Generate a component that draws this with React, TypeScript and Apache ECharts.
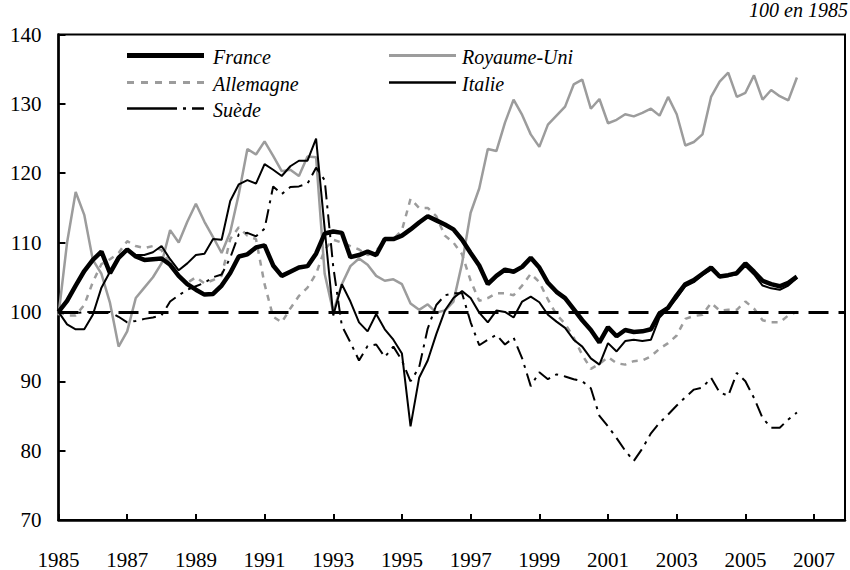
import React, { useEffect, useRef } from "react";
import * as echarts from "echarts";

// Quarterly readings, starting at 1985.0, step 0.25 year
const startYear = 1985;
const stepYear = 0.25;

const france = [
  100, 101.6, 103.8, 105.9, 107.5, 108.7, 105.6, 107.8, 109, 108, 107.5, 107.6, 107.7, 106.8, 105.2, 104,
  103.2, 102.5, 102.6, 103.8, 105.6, 108, 108.3, 109.3, 109.6, 106.7, 105.2, 105.8, 106.4, 106.6, 108.4, 111.3,
  111.6, 111.4, 107.9, 108.2, 108.7, 108.2, 110.5, 110.5, 111, 111.9, 112.9, 113.8, 113.2, 112.6, 111.9, 110.4,
  108.5, 106.7, 104, 105.2, 106.1, 105.8, 106.5, 107.8, 106.4, 104.2, 102.9, 102, 100.4, 98.8, 97.4, 95.6,
  97.8, 96.5, 97.4, 97.1, 97.2, 97.5, 99.8, 100.6, 102.4, 104, 104.6, 105.5, 106.4, 105.1, 105.3, 105.6,
  107, 105.8, 104.5, 104, 103.7, 104.2, 105.1,
];

const royaumeUni = [
  99.5, 110, 117.3, 114, 107.5, 105.5, 101.3, 95, 97.2, 102, 103.5, 105, 107, 111.8, 110, 113,
  115.6, 113, 110.8, 108.5, 111.5, 117, 123.5, 122.7, 124.6, 122.5, 120.3, 120.5, 119.6, 122.4, 122.3, 105.5,
  100, 104, 106.6, 107.7, 106.8, 105.2, 104.5, 104.7, 104, 101.2, 100.3, 101.1, 99.9, 100.2, 101.5, 107,
  114.3, 117.8, 123.5, 123.2, 127.3, 130.6, 128.4, 125.6, 123.8, 127, 128.3, 129.6, 132.8, 133.5, 129.3, 130.7,
  127.2, 127.7, 128.5, 128.2, 128.7, 129.3, 128.3, 131, 128.5, 124, 124.5, 125.6, 131, 133.2, 134.5, 131,
  131.6, 134.1, 130.6, 132, 131.1, 130.5, 133.8,
];

const italie = [
  100, 98.2, 97.5, 97.5, 99.6, 103.5, 105.8, 108, 109, 108.2, 108.2, 108.6, 109.5, 107.6, 106, 107,
  108.2, 108.4, 110.5, 110.4, 116, 118.4, 119, 118.5, 121.3, 120.5, 119.6, 121, 121.8, 121.8, 125, 112,
  99.5, 104, 101.5, 98.5, 97.2, 99.7, 97.5, 96, 94, 83.5, 90.5, 93, 96.8, 100.2, 102, 103,
  102, 99.9, 98.5, 100.2, 100, 99.2, 101.5, 102.2, 101.4, 99.6, 98.6, 97.7, 96, 95, 93.3, 92.4,
  95.5, 94.3, 95.8, 96, 95.8, 96, 99.2, 100.5, 102, 103.7, 104.3, 105.3, 106.1, 105, 105.2, 105.4,
  106.6, 105.4, 103.8, 103.4, 103.2, 103.8, 104.9,
];

const allemagne = [
  100, 99.5, 99.5, 101, 104.3, 106.9, 107.6, 108.5, 110.2, 109.5, 109.2, 109.5, 108.9, 107, 105.2, 104.2,
  105, 104.1, 104.6, 105.2, 110.5, 112.2, 111, 110.5, 104, 99.3, 98.5, 100.5, 102.3, 103.5, 105.5, 109,
  110.4, 110, 109.5, 109, 108.2, 108.8, 110.4, 110.5, 111.8, 116.3, 115, 115, 113.8, 111, 110, 108.3,
  104.5, 101.6, 102, 102.7, 102.7, 102.4, 103.8, 105.5, 104.3, 101.8, 99.6, 98.3, 96.3, 93.8, 91.8, 92.5,
  93.5, 92.6, 92.4, 92.9, 93, 93.6, 94.7, 95.5, 96.6, 99, 99.4, 99.6, 101.3, 100.2, 100.3, 100.3,
  101.5, 100.5, 98.8, 98.5, 98.5, 99.5, 100,
];

const suede = [
  100, 100, 99.8, 100, 100, 100, 100, 99.3, 98.5, 98.7, 99, 99.2, 99.5, 101.5, 102.4, 103.2,
  103.7, 104.2, 105, 105.4, 107.8, 111.2, 111.4, 110.9, 112, 118.1, 117, 118, 118.1, 118.5, 120.8, 119,
  106.5, 98, 95.6, 93, 95.1, 95.3, 93.5, 95, 93, 90, 92, 97.6, 101, 102.4, 102.7, 102.7,
  98.5, 95.2, 96, 96.7, 95.3, 96.3, 93.3, 89.3, 91.3, 90.3, 91, 90.7, 90.3, 90, 89, 85,
  83.5, 81.8, 80, 78.5, 80.3, 82.5, 84, 85.2, 86.5, 87.7, 88.8, 89.1, 90.5, 88.4, 87.9, 91.2,
  90, 87.6, 84.7, 83.3, 83.3, 84.5, 85.5,
];

const yTicks = { min: 70, max: 140, interval: 10 };
const xTicks = { min: 1985, max: 2007.9, interval: 2 };
const baseLevel = 100;
const unitNote = "100 en 1985";

const toPairs = (vals: number[]) => vals.map((v, i) => [startYear + i * stepYear, v]);

const FONT = "Liberation Serif";
const GRAY = "#9c9c9c";

const STYLES: Record<string, { color: string; width: number; dash?: number[]; legendDash?: number[] }> = {
  France: { color: "#000", width: 4.5 },
  Allemagne: { color: GRAY, width: 2.5, dash: [6, 6], legendDash: [7, 7] },
  "Suède": { color: "#000", width: 2, dash: [14, 6, 3, 6], legendDash: [50, 6, 3, 6] },
  "Royaume-Uni": { color: GRAY, width: 2.5 },
  Italie: { color: "#000", width: 2 },
};

const legendCols = [
  { names: ["France", "Allemagne", "Suède"], x1: 127, x2: 204, tx: 213 },
  { names: ["Royaume-Uni", "Italie"], x1: 389, x2: 456, tx: 462 },
];

export default function App() {
  const ref = useRef<HTMLDivElement>(null);
  useEffect(() => {
    if (!ref.current) return;
    const chart = echarts.init(ref.current, undefined, { renderer: "svg" });
    const lineBase = { type: "line" as const, showSymbol: false, symbol: "none", animation: false };

    const mk = (name: string, vals: number[], extra: any = {}) => {
      const s = STYLES[name];
      return {
        ...lineBase,
        name,
        data: toPairs(vals),
        lineStyle: { color: s.color, width: s.width, type: s.dash ? s.dash : "solid" },
        itemStyle: { color: s.color },
        ...extra,
      };
    };

    const graphics: any[] = [];
    const rowY = [55.5, 82.5, 108.5];
    legendCols.forEach((col) => {
      col.names.forEach((name, i) => {
        const s = STYLES[name];
        graphics.push({
          type: "line",
          silent: true,
          shape: { x1: col.x1, y1: rowY[i], x2: col.x2, y2: rowY[i] },
          style: { stroke: s.color, lineWidth: name === "France" ? 5 : s.width + 0.5, lineDash: s.legendDash || null },
        });
        graphics.push({
          type: "text",
          silent: true,
          x: col.tx,
          y: rowY[i] + 1,
          style: {
            text: name,
            fontFamily: FONT,
            fontStyle: "italic",
            fontSize: 20,
            fill: "#000",
            align: "left",
            verticalAlign: "middle",
          },
        });
      });
    });

    chart.setOption({
      animation: false,
      backgroundColor: "#fff",
      grid: { left: 58.5, right: 5, top: 34.5, bottom: 50, show: true, borderColor: "#000", borderWidth: 2 },
      title: {
        text: unitNote,
        right: 2,
        top: 0,
        padding: 0,
        textStyle: { fontFamily: FONT, fontStyle: "italic", fontWeight: "normal", fontSize: 20, color: "#000" },
      },
      graphic: graphics,
      xAxis: {
        type: "value",
        min: xTicks.min,
        max: xTicks.max,
        interval: xTicks.interval,
        splitLine: { show: false },
        axisLine: { show: true, lineStyle: { color: "#000", width: 2.5 } },
        axisTick: { show: true, inside: true, length: 6, lineStyle: { color: "#000", width: 2 } },
        axisLabel: {
          showMaxLabel: false,
          margin: 29,
          fontFamily: FONT,
          fontSize: 21,
          color: "#000",
          formatter: (v: number) => (Number.isInteger(v) ? String(v) : ""),
        },
      },
      yAxis: {
        type: "value",
        min: yTicks.min,
        max: yTicks.max,
        interval: yTicks.interval,
        splitLine: { show: false },
        axisLine: { show: true, lineStyle: { color: "#000", width: 2.5 } },
        axisTick: { show: true, inside: true, length: 7, lineStyle: { color: "#000", width: 2 } },
        axisLabel: { margin: 17, fontFamily: FONT, fontSize: 21, color: "#000" },
      },
      series: [
        mk("Royaume-Uni", royaumeUni),
        mk("Allemagne", allemagne),
        mk("Suède", suede),
        mk("Italie", italie),
        mk("France", france, {
          markLine: {
            silent: true,
            symbol: "none",
            label: { show: false },
            lineStyle: { color: "#000", width: 3, type: [20, 10] },
            data: [{ yAxis: baseLevel }],
          },
        }),
      ],
    });
    return () => chart.dispose();
  }, []);
  return <div ref={ref} style={{ position: "fixed", left: 0, top: 0, width: 850, height: 570 }} />;
}
